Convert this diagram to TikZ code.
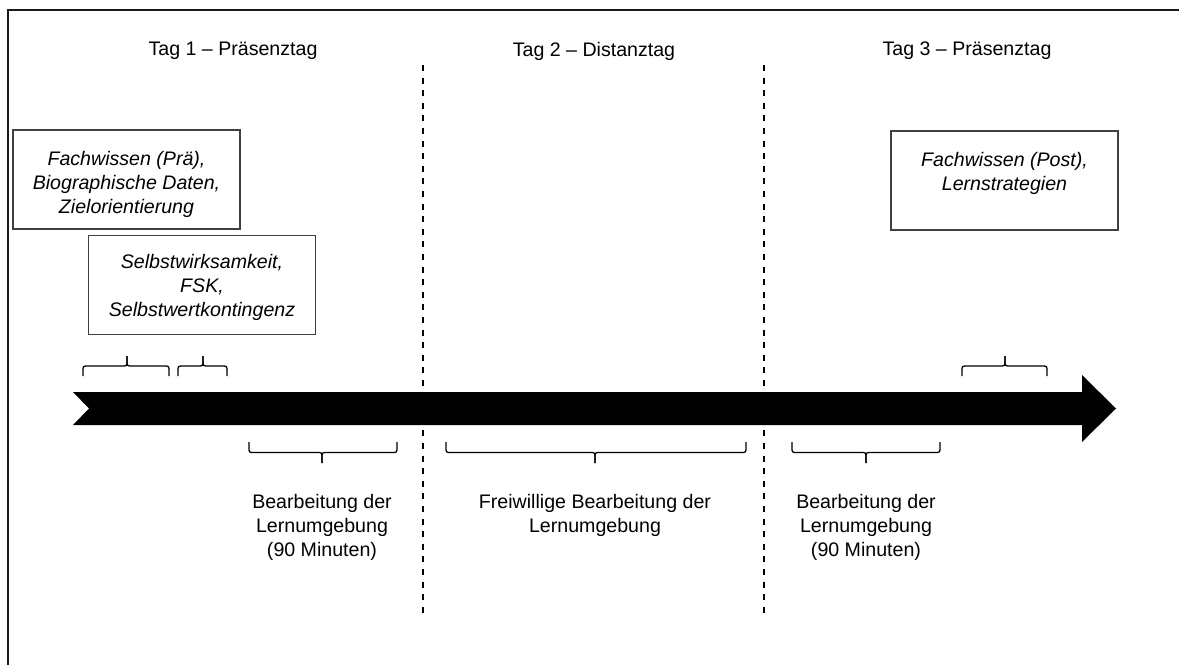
\documentclass[tikz,border=0pt]{standalone}
\usepackage{fontspec}
\setmainfont{Liberation Sans}
\newcommand\myupbrace[4]{% name, x1, xm, x2
  \coordinate (#1-l) at (#2,376);
  \coordinate (#1-r) at (#4,376);
  \coordinate (#1-tip) at (#3,356);
  \draw[bracestyle] (#1-l) -- (#2,366) -- (#3,366) -- (#1-tip);
  \draw[bracestyle] (#1-tip) -- (#3,366) -- (#4,366) -- (#1-r);}
\newcommand\mydownbrace[4]{% name, x1, xm, x2
  \coordinate (#1-l) at (#2,442);
  \coordinate (#1-r) at (#4,442);
  \coordinate (#1-tip) at (#3,463);
  \draw[bracestyle] (#1-l) -- (#2,452.5) -- (#3,452.5) -- (#1-tip);
  \draw[bracestyle] (#1-tip) -- (#3,452.5) -- (#4,452.5) -- (#1-r);}
\begin{document}
\begin{tikzpicture}[x=0.5pt,y=-0.5pt,
  lbl/.style={font=\fontsize{9.8}{12}\selectfont, align=center, inner sep=0pt},
  infobox/.style={draw=black!75, line width=0.6pt, font=\fontsize{9.8}{12}\selectfont\itshape, align=center, minimum width=113.5pt, minimum height=49.5pt, inner sep=0pt},
  daysep/.style={line width=0.65pt, dash pattern=on 3pt off 3.3pt},
  bracestyle/.style={line width=0.65pt, rounded corners=1.2pt},
  timeline/.style={fill=black},
  frameline/.style={line width=1pt, draw=black!90}
]
\useasboundingbox (0,0) rectangle (1179,665);
\fill[white] (0,0) rectangle (1179,665);
\draw[frameline] (7.5,665) -- (7.5,9.5) -- (1179,9.5);

% day titles
\node[lbl] (t1) at (233,51) {Tag 1 – Präsenztag};
\node[lbl] (t2) at (594,51) {Tag 2 – Distanztag};
\node[lbl] (t3) at (967,51) {Tag 3 – Präsenztag};

% timeline arrow
\fill[timeline] (73,392) -- (1082,392) -- (1082,375) -- (1116,408.5) -- (1082,442) -- (1082,425) -- (73,425) -- (89,408.5) -- cycle;

% day separators
\coordinate (s1top) at (423,65);
\coordinate (s1bot) at (423,617);
\coordinate (s2top) at (764,65);
\coordinate (s2bot) at (764,617);
\draw[daysep] (s1top) -- (s1bot);
\draw[daysep] (s2top) -- (s2bot);

% boxes
\node[infobox] (b1) at (126.5,179.5) {\rule{0pt}{11.8pt}Fachwissen (Prä),\\Biographische Daten,\\Zielorientierung};
\node[infobox] (b2) at (202,285) {\rule{0pt}{10pt}Selbstwirksamkeit,\\FSK,\\Selbstwertkontingenz};
\node[infobox] (b3) at (1004.5,180.5) {\rule{0pt}{13.8pt}Fachwissen (Post),\\Lernstrategien\\\strut};

% braces above
\myupbrace{ba}{83}{127}{169}
\myupbrace{bb}{178}{203}{227}
\myupbrace{bc}{962}{1005}{1047}

% braces below
\mydownbrace{bd}{249}{322}{397}
\mydownbrace{be}{446}{595}{746}
\mydownbrace{bf}{792}{866}{940}

% labels below
\node[lbl, anchor=north] (l1) at (322,494) {Bearbeitung der\\Lernumgebung\\(90 Minuten)};
\node[lbl, anchor=north] (l2) at (595,494) {Freiwillige Bearbeitung der\\Lernumgebung};
\node[lbl, anchor=north] (l3) at (866,494) {Bearbeitung der\\Lernumgebung\\(90 Minuten)};
\end{tikzpicture}
\end{document}
